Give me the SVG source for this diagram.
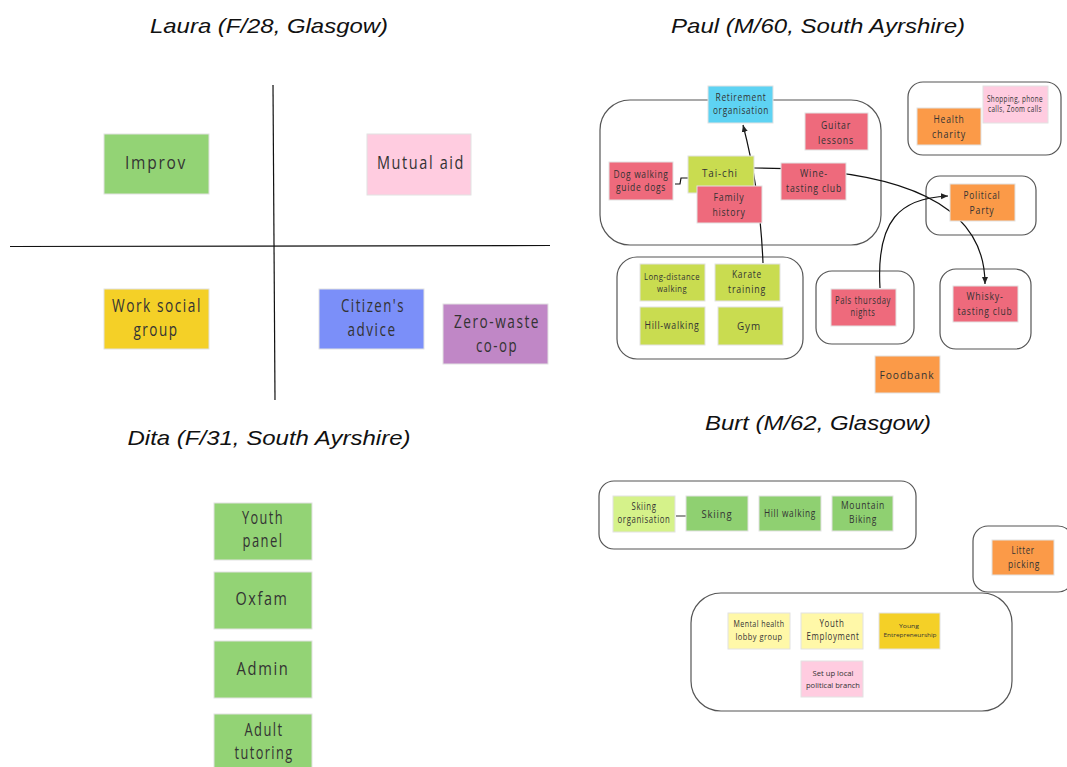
<svg xmlns="http://www.w3.org/2000/svg" width="1067" height="767" viewBox="0 0 1067 767">
<defs>
<marker id="arr" markerWidth="8" markerHeight="8" refX="7" refY="4" orient="auto" markerUnits="userSpaceOnUse">
<path d="M0,1 L7,4 L0,7 Z" fill="#222"/>
</marker>
<style>
.title{font-family:"Liberation Sans",Arial,sans-serif;font-style:italic;font-size:21px;fill:#111;text-anchor:middle}
.n rect{stroke:#e2e2e2;stroke-width:1}
.t{font-family:"Open Sans","DejaVu Sans",sans-serif;fill:#333;text-anchor:middle}
.big{font-size:18px;letter-spacing:2px}
.mid{font-size:11px;letter-spacing:1px}
.sm{font-size:10px;letter-spacing:0.8px}
.xs{font-size:8.5px;letter-spacing:0.5px}
.grp{fill:none;stroke:#555;stroke-width:1.2}
.ln{fill:none;stroke:#111;stroke-width:1.2}
.green{fill:#93d375}.pink{fill:#ffcce0}.yellow{fill:#f4d027}.blue{fill:#7b8ff9}.purple{fill:#c087c6}
.cyan{fill:#5ed3f3}.red{fill:#ee6a7c}.lime{fill:#c9dc50}.orange{fill:#fb9a48}.lgreen{fill:#d5f28a}.bgreen{fill:#8fd071}.lyellow{fill:#fff8a8}
</style>
</defs>
<rect width="1067" height="767" fill="#fff"/>

<text class="title" x="269" y="33" textLength="238" lengthAdjust="spacingAndGlyphs">Laura (F/28, Glasgow)</text>
<text class="title" x="818" y="33" textLength="294" lengthAdjust="spacingAndGlyphs">Paul (M/60, South Ayrshire)</text>
<text class="title" x="269" y="445" textLength="283" lengthAdjust="spacingAndGlyphs">Dita (F/31, South Ayrshire)</text>
<text class="title" x="818" y="430" textLength="226" lengthAdjust="spacingAndGlyphs">Burt (M/62, Glasgow)</text>

<g id="groups">
<rect class="grp" x="600" y="100" width="281" height="145" rx="30"/>
<rect class="grp" x="908" y="82" width="153" height="73" rx="15"/>
<rect class="grp" x="926" y="176" width="110" height="59" rx="14"/>
<rect class="grp" x="617" y="257" width="186" height="102" rx="20"/>
<rect class="grp" x="816" y="271" width="98" height="73" rx="16"/>
<rect class="grp" x="940" y="269" width="91" height="80" rx="16"/>
<rect class="grp" x="599" y="481" width="317" height="68" rx="15"/>
<rect class="grp" x="973" y="526" width="100" height="66" rx="15"/>
<rect class="grp" x="691" y="593" width="321" height="118" rx="30"/>
</g>

<g id="connectors">
<line class="ln" x1="273" y1="85" x2="275" y2="400"/>
<line class="ln" x1="10" y1="246.5" x2="550" y2="245.5"/>
<path class="ln" d="M763,263 Q760,190 743,125" marker-end="url(#arr)"/>
<path class="ln" d="M754,168 C870,168 985,190 985,284" marker-end="url(#arr)"/>
<path class="ln" d="M880,288 C876,220 900,198 948,196" marker-end="url(#arr)"/>
<path class="ln" d="M675,184 L680,184 L681,178 L688,178" stroke-width="1.3"/>
<line x1="676" y1="516" x2="686" y2="516" stroke="#555" stroke-width="1.2"/>
</g>

<!-- Laura -->
<g id="improv" class="n"><rect class="green" x="104" y="134" width="105" height="60"/><text class="t big" x="156" y="169" textLength="62" lengthAdjust="spacingAndGlyphs">Improv</text></g>
<g id="mutual-aid" class="n"><rect class="pink" x="367" y="134" width="104" height="61"/><text class="t big" x="421" y="169" textLength="88" lengthAdjust="spacingAndGlyphs">Mutual aid</text></g>
<g id="work-social" class="n"><rect class="yellow" x="104" y="289" width="105" height="60"/><text class="t big" x="157" y="312" textLength="90" lengthAdjust="spacingAndGlyphs">Work social</text><text class="t big" x="156" y="336" textLength="45" lengthAdjust="spacingAndGlyphs">group</text></g>
<g id="citizens" class="n"><rect class="blue" x="319" y="289" width="105" height="60"/><text class="t big" x="373" y="312" textLength="64" lengthAdjust="spacingAndGlyphs">Citizen's</text><text class="t big" x="372" y="336" textLength="49" lengthAdjust="spacingAndGlyphs">advice</text></g>
<g id="zero-waste" class="n"><rect class="purple" x="443" y="304" width="105" height="60"/><text class="t big" x="497" y="328" textLength="86" lengthAdjust="spacingAndGlyphs">Zero-waste</text><text class="t big" x="497" y="352" textLength="42" lengthAdjust="spacingAndGlyphs">co-op</text></g>

<!-- Dita -->
<g id="youth-panel" class="n"><rect class="green" x="214" y="503" width="98" height="57"/><text class="t big" x="263" y="524" textLength="42" lengthAdjust="spacingAndGlyphs">Youth</text><text class="t big" x="263" y="547" textLength="41" lengthAdjust="spacingAndGlyphs">panel</text></g>
<g id="oxfam" class="n"><rect class="green" x="214" y="572" width="98" height="57"/><text class="t big" x="262" y="605" textLength="53" lengthAdjust="spacingAndGlyphs">Oxfam</text></g>
<g id="admin" class="n"><rect class="green" x="214" y="641" width="98" height="57"/><text class="t big" x="263" y="675" textLength="53" lengthAdjust="spacingAndGlyphs">Admin</text></g>
<g id="adult-tutoring" class="n"><rect class="green" x="214" y="714" width="98" height="56"/><text class="t big" x="264" y="736" textLength="39" lengthAdjust="spacingAndGlyphs">Adult</text><text class="t big" x="264" y="759" textLength="59" lengthAdjust="spacingAndGlyphs">tutoring</text></g>

<!-- Paul -->
<g id="guitar" class="n"><rect class="red" x="805" y="113" width="63" height="37"/><text class="t mid" x="836" y="129" textLength="30" lengthAdjust="spacingAndGlyphs">Guitar</text><text class="t mid" x="836" y="144" textLength="36" lengthAdjust="spacingAndGlyphs">lessons</text></g>
<g id="dog-walking" class="n"><rect class="red" x="609" y="162" width="64" height="38"/><text class="t sm" x="641" y="178" textLength="55" lengthAdjust="spacingAndGlyphs">Dog walking</text><text class="t sm" x="641" y="191" textLength="50" lengthAdjust="spacingAndGlyphs">guide dogs</text></g>
<g id="tai-chi" class="n"><rect class="lime" x="688" y="156" width="66" height="37"/><text class="t mid" x="720" y="177" textLength="36" lengthAdjust="spacingAndGlyphs">Tai-chi</text></g>
<g id="family-history" class="n"><rect class="red" x="697" y="186" width="65" height="37"/><text class="t mid" x="729" y="201" textLength="31" lengthAdjust="spacingAndGlyphs">Family</text><text class="t mid" x="729" y="216" textLength="33" lengthAdjust="spacingAndGlyphs">history</text></g>
<g id="wine" class="n"><rect class="red" x="781" y="163" width="65" height="37"/><text class="t mid" x="814" y="177" textLength="28" lengthAdjust="spacingAndGlyphs">Wine-</text><text class="t mid" x="814" y="192" textLength="56" lengthAdjust="spacingAndGlyphs">tasting club</text></g>
<g id="retirement" class="n"><rect class="cyan" x="708" y="86" width="65" height="37"/><text class="t sm" x="741" y="101" textLength="51" lengthAdjust="spacingAndGlyphs">Retirement</text><text class="t sm" x="741" y="114" textLength="56" lengthAdjust="spacingAndGlyphs">organisation</text></g>
<g id="shopping" class="n"><rect class="pink" x="983" y="86" width="65" height="37"/><text class="t xs" x="1015" y="102" textLength="56" lengthAdjust="spacingAndGlyphs">Shopping, phone</text><text class="t xs" x="1015" y="112" textLength="54" lengthAdjust="spacingAndGlyphs">calls, Zoom calls</text></g>
<g id="health-charity" class="n"><rect class="orange" x="917" y="108" width="64" height="37"/><text class="t mid" x="949" y="123" textLength="31" lengthAdjust="spacingAndGlyphs">Health</text><text class="t mid" x="949" y="138" textLength="34" lengthAdjust="spacingAndGlyphs">charity</text></g>
<g id="political-party" class="n"><rect class="orange" x="950" y="184" width="65" height="37"/><text class="t mid" x="982" y="199" textLength="37" lengthAdjust="spacingAndGlyphs">Political</text><text class="t mid" x="982" y="214" textLength="25" lengthAdjust="spacingAndGlyphs">Party</text></g>
<g id="long-distance" class="n"><rect class="lime" x="640" y="264" width="65" height="37"/><text class="t xs" x="672" y="280" textLength="56" lengthAdjust="spacingAndGlyphs">Long-distance</text><text class="t xs" x="672" y="292" textLength="30" lengthAdjust="spacingAndGlyphs">walking</text></g>
<g id="karate" class="n"><rect class="lime" x="715" y="264" width="65" height="37"/><text class="t mid" x="747" y="278" textLength="30" lengthAdjust="spacingAndGlyphs">Karate</text><text class="t mid" x="747" y="293" textLength="38" lengthAdjust="spacingAndGlyphs">training</text></g>
<g id="hill-walking-p" class="n"><rect class="lime" x="640" y="307" width="65" height="38"/><text class="t sm" x="672" y="329" textLength="55" lengthAdjust="spacingAndGlyphs">Hill-walking</text></g>
<g id="gym" class="n"><rect class="lime" x="718" y="307" width="65" height="38"/><text class="t mid" x="749" y="330" textLength="24" lengthAdjust="spacingAndGlyphs">Gym</text></g>
<g id="pals" class="n"><rect class="red" x="831" y="289" width="65" height="37"/><text class="t sm" x="863" y="304" textLength="56" lengthAdjust="spacingAndGlyphs">Pals thursday</text><text class="t sm" x="863" y="316" textLength="25" lengthAdjust="spacingAndGlyphs">nights</text></g>
<g id="whisky" class="n"><rect class="red" x="953" y="286" width="65" height="36"/><text class="t mid" x="985" y="300" textLength="37" lengthAdjust="spacingAndGlyphs">Whisky-</text><text class="t mid" x="985" y="315" textLength="55" lengthAdjust="spacingAndGlyphs">tasting club</text></g>
<g id="foodbank" class="n"><rect class="orange" x="875" y="356" width="65" height="37"/><text class="t mid" x="907" y="379" textLength="55" lengthAdjust="spacingAndGlyphs">Foodbank</text></g>

<!-- Burt -->
<g id="skiing-org" class="n"><rect class="lgreen" x="613" y="496" width="62" height="36"/><text class="t sm" x="644" y="510" textLength="25" lengthAdjust="spacingAndGlyphs">Skiing</text><text class="t sm" x="644" y="523" textLength="53" lengthAdjust="spacingAndGlyphs">organisation</text></g>
<g id="skiing" class="n"><rect class="bgreen" x="686" y="496" width="62" height="35"/><text class="t mid" x="717" y="518" textLength="31" lengthAdjust="spacingAndGlyphs">Skiing</text></g>
<g id="hill-walking-b" class="n"><rect class="bgreen" x="759" y="496" width="62" height="35"/><text class="t sm" x="790" y="517" textLength="52" lengthAdjust="spacingAndGlyphs">Hill walking</text></g>
<g id="mountain-biking" class="n"><rect class="bgreen" x="832" y="496" width="61" height="35"/><text class="t sm" x="863" y="509" textLength="44" lengthAdjust="spacingAndGlyphs">Mountain</text><text class="t sm" x="863" y="523" textLength="28" lengthAdjust="spacingAndGlyphs">Biking</text></g>
<g id="litter" class="n"><rect class="orange" x="992" y="540" width="62" height="35"/><text class="t sm" x="1023" y="554" textLength="23" lengthAdjust="spacingAndGlyphs">Litter</text><text class="t sm" x="1024" y="568" textLength="32" lengthAdjust="spacingAndGlyphs">picking</text></g>
<g id="mental-health" class="n"><rect class="lyellow" x="728" y="613" width="62" height="36"/><text class="t xs" x="759" y="627" textLength="51" lengthAdjust="spacingAndGlyphs">Mental health</text><text class="t xs" x="759" y="640" textLength="47" lengthAdjust="spacingAndGlyphs">lobby group</text></g>
<g id="youth-employment" class="n"><rect class="lyellow" x="801" y="613" width="62" height="36"/><text class="t sm" x="832" y="627" textLength="25" lengthAdjust="spacingAndGlyphs">Youth</text><text class="t sm" x="833" y="640" textLength="53" lengthAdjust="spacingAndGlyphs">Employment</text></g>
<g id="young-entre" class="n"><rect class="yellow" x="879" y="613" width="61" height="36"/><text class="t" x="909" y="628" style="font-size:6px" textLength="20" lengthAdjust="spacingAndGlyphs">Young</text><text class="t" x="910" y="637" style="font-size:6px" textLength="53" lengthAdjust="spacingAndGlyphs">Entrepreneurship</text></g>
<g id="political-branch" class="n"><rect class="pink" x="801" y="661" width="62" height="36"/><text class="t" x="833" y="676" style="font-size:7.5px" textLength="41" lengthAdjust="spacingAndGlyphs">Set up local</text><text class="t" x="833" y="688" style="font-size:7.5px" textLength="54" lengthAdjust="spacingAndGlyphs">political branch</text></g>
</svg>
